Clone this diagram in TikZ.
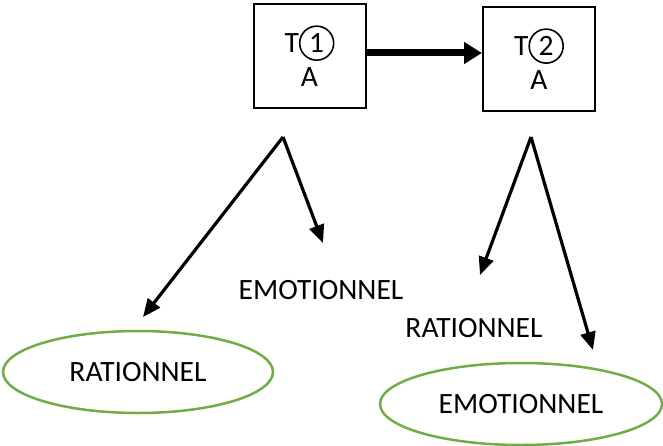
\documentclass[tikz,border=0pt]{standalone}
\usepackage{fontspec}
\setmainfont{Carlito}
\usetikzlibrary{arrows.meta,shapes.geometric}
\definecolor{ovalgreen}{HTML}{70AD47}
\newcommand{\circnum}[1]{\tikz[baseline=(c.base)]\node[circle,draw,line width=1.6pt,inner sep=0pt,minimum size=34pt] (c) {#1};}

\begin{document}
\begin{tikzpicture}[x=1pt,y=-1pt,
    font=\fontsize{29.5}{36}\selectfont,
    box/.style={draw,line width=2pt,minimum width=112pt,minimum height=104pt,align=center,inner sep=0pt},
    oval/.style={ellipse,draw=ovalgreen,line width=2.5pt,inner sep=0pt},
    thin/.style={line width=3.2pt,-{Triangle[length=18pt,width=15pt]}},
    bold/.style={line width=7pt,-{Triangle[length=18pt,width=21pt]}}]
  \useasboundingbox (0,0) rectangle (663,446);
  \draw
    (309.5,56) node[box] (t1){T\circnum{1}\\[-2pt]A}
    (539,59) node[box] (t2){T\circnum{2}\\[-2pt]A}
    (138,372) node[oval,minimum width=270pt,minimum height=82pt] (rat1){RATIONNEL}
    (521,404) node[oval,minimum width=282pt,minimum height=82pt] (emo2){EMOTIONNEL}
    (321,290) node (emo1){EMOTIONNEL}
    (474,328) node (rat2){RATIONNEL};
  \coordinate (top1) at (283,137);
  \coordinate (top2) at (531,137);
  \coordinate (tip1) at (143,317);
  \coordinate (tip2) at (323,243);
  \coordinate (tip3) at (480,275);
  \coordinate (tip4) at (593,350);
  \draw[bold] ([yshift=3pt]t1.east) -- ([yshift=6pt]t2.west);
  \begin{scope}[thin]
    \draw (top1) to (tip1);
    \draw (top1) to (tip2);
    \draw (top2) to (tip3);
    \draw (top2) to (tip4);
  \end{scope}
\end{tikzpicture}
\end{document}
